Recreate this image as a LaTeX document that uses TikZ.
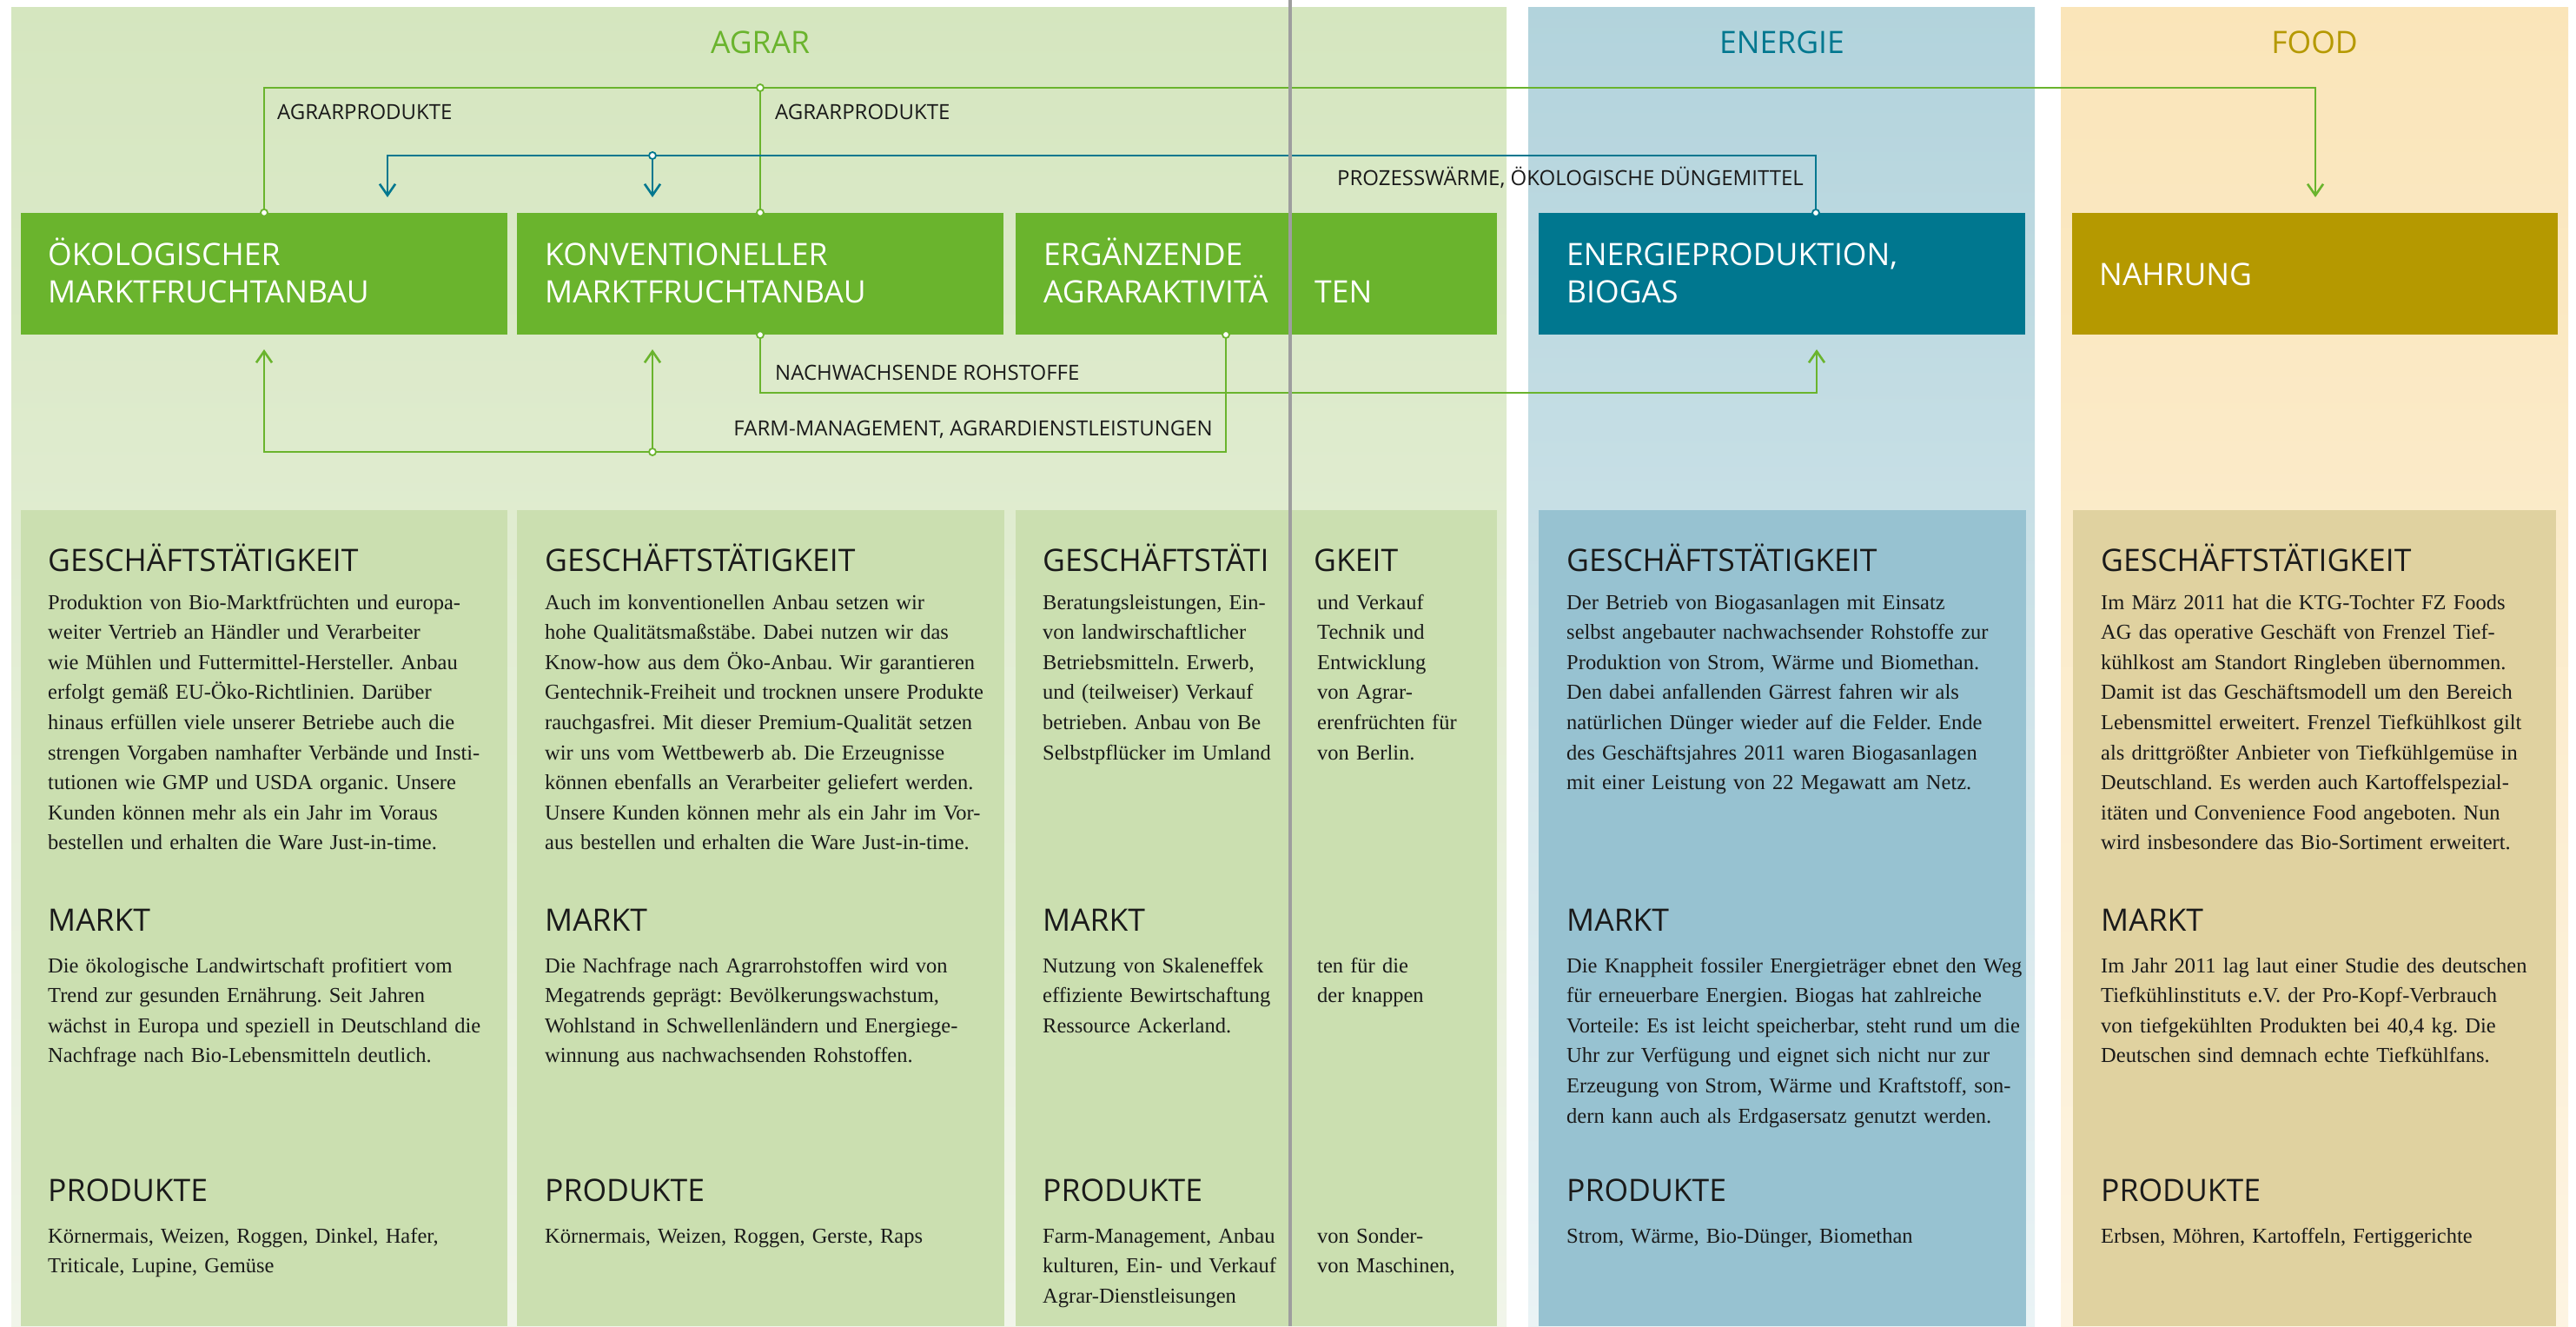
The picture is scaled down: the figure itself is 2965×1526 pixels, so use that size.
\documentclass[tikz,border=0pt]{standalone}
\usepackage{fontspec}
\setmainfont{Liberation Serif}
\setsansfont{Open Sans}
\usetikzlibrary{arrows.meta}
\frenchspacing

\definecolor{agrarGreen}{RGB}{106,180,45}
\definecolor{energyTeal}{RGB}{0,119,143}
\definecolor{foodGold}{RGB}{181,153,0}
\definecolor{agrarTop}{RGB}{213,230,191}
\definecolor{agrarBottom}{RGB}{241,245,234}
\definecolor{energyTop}{RGB}{178,211,220}
\definecolor{energyBottom}{RGB}{234,243,245}
\definecolor{foodTop}{RGB}{250,229,185}
\definecolor{foodBottom}{RGB}{253,244,226}
\definecolor{agrarCard}{RGB}{203,223,176}
\definecolor{energyCard}{RGB}{151,194,209}
\definecolor{foodCard}{RGB}{224,210,160}
\definecolor{ink}{RGB}{26,26,26}
\definecolor{divider}{RGB}{158,158,158}

\tikzset{
  unit/.style={draw=none, rectangle, inner sep=0pt, minimum height=140pt},
  card/.style={draw=none, rectangle, inner sep=0pt, minimum height=939pt},
  unitlabel/.style={anchor=base west, inner sep=0pt, text=white, text width=540pt, align=left,
    font=\sffamily\fontsize{35.5}{43}\selectfont},
  paneltitle/.style={anchor=base, inner sep=0pt, font=\sffamily\fontsize{35.5}{40}\selectfont},
  heading/.style={anchor=base west, inner sep=0pt, text=ink, font=\sffamily\fontsize{35.5}{40}\selectfont},
  body/.style={anchor=base west, inner sep=0pt, text=ink, text width=620pt, align=left,
    font=\rmfamily\fontsize{24.5}{34.6}\selectfont},
  flowlabel/.style={inner sep=0pt, text=ink, font=\sffamily\fontsize{24}{28}\selectfont},
  greenflow/.style={draw=agrarGreen, line width=2.6pt},
  tealflow/.style={draw=energyTeal, line width=2.6pt},
  tip/.style={-{Straight Barb[length=13pt,width=18pt]}},
  joint/.style={circle, fill=white, line width=1.8pt, inner sep=0pt, minimum size=8pt},
}

\begin{document}
\begin{tikzpicture}[x=1pt,y=-1pt]
\useasboundingbox (0,0) rectangle (2965,1526);

% segment backgrounds
\fill[top color=agrarTop, bottom color=agrarBottom] (13,8) rectangle (1734,1526);
\fill[top color=energyTop, bottom color=energyBottom] (1759,8) rectangle (2342,1526);
\fill[top color=foodTop, bottom color=foodBottom] (2372,8) rectangle (2956,1526);

% segment titles
\node[paneltitle, text=agrarGreen] (tAgrar) at (875,61) {AGRAR};
\node[paneltitle, text=energyTeal] (tEnergie) at (2051,61) {ENERGIE};
\node[paneltitle, text=foodGold] (tFood) at (2664,61) {FOOD};

% description cards
\node[card, fill=agrarCard, minimum width=560pt] (cOeko) at (304,1056.5) {};
\node[card, fill=agrarCard, minimum width=561pt] (cKonv) at (875.5,1056.5) {};
\node[card, fill=agrarCard, minimum width=554pt] (cErg) at (1446,1056.5) {};
\node[card, fill=energyCard, minimum width=561pt] (cEnergie) at (2051.5,1056.5) {};
\node[card, fill=foodCard, minimum width=556pt] (cFood) at (2664,1056.5) {};

% business units
\node[unit, fill=agrarGreen, minimum width=560pt] (oeko) at (304,315) {};
\node[unit, fill=agrarGreen, minimum width=560pt] (konv) at (875,315) {};
\node[unit, fill=agrarGreen, minimum width=554pt] (erg) at (1446,315) {};
\node[unit, fill=energyTeal, minimum width=560pt] (energie) at (2051,315) {};
\node[unit, fill=foodGold, minimum width=559pt] (nahrung) at (2664.5,315) {};

\node[unitlabel] (lOeko) at (55,305) {ÖKOLOGISCHER\\MARKTFRUCHTANBAU};
\node[unitlabel] (lKonv) at (627,305) {KONVENTIONELLER\\MARKTFRUCHTANBAU};
\node[unitlabel] (lErg) at (1201,305) {ERGÄNZENDE\\AGRARAKTIVITÄ};
\node[unitlabel] (lErgB) at (1513,348) {TEN};
\node[unitlabel] (lEnergie) at (1803,305) {ENERGIEPRODUKTION,\\BIOGAS};
\node[unitlabel] (lNahrung) at (2416,328) {NAHRUNG};

% connection points
\coordinate (agrRailL) at (304,101);
\coordinate (agrJoin) at (875,101);
\coordinate (agrRailR) at (2665,101);
\coordinate (foodIn) at (2665,227);

\coordinate (energyOut) at (2090,245);
\coordinate (heatR) at (2090,179);
\coordinate (heatJoin) at (751,179);
\coordinate (heatL) at (446,179);
\coordinate (oekoHeatIn) at (446,227);
\coordinate (konvHeatIn) at (751,227);

\coordinate (rawDown) at (875,452);
\coordinate (rawRight) at (2091,452);
\coordinate (energyIn) at (2091,402);

\coordinate (ergOut) at (1411,385);
\coordinate (farmR) at (1411,520);
\coordinate (farmJoin) at (751,520);
\coordinate (farmL) at (304,520);
\coordinate (oekoFarmIn) at (304,402);
\coordinate (konvFarmIn) at (751,402);

% flows
\draw[greenflow, tip] (oeko.north) -- (agrRailL) -- (agrRailR) -- (foodIn);
\draw[greenflow] (konv.north) -- (agrJoin);
\draw[tealflow, tip] (energyOut) -- (heatR) -- (heatL) -- (oekoHeatIn);
\draw[tealflow, tip] (heatJoin) -- (konvHeatIn);
\draw[greenflow, tip] (konv.south) -- (rawDown) -- (rawRight) -- (energyIn);
\draw[greenflow, tip] (ergOut) -- (farmR) -- (farmL) -- (oekoFarmIn);
\draw[greenflow, tip] (farmJoin) -- (konvFarmIn);

% junction markers
\node[joint, draw=agrarGreen] (jOekoTop) at (oeko.north) {};
\node[joint, draw=agrarGreen] (jKonvTop) at (konv.north) {};
\node[joint, draw=agrarGreen] (jAgr) at (agrJoin) {};
\node[joint, draw=energyTeal] (jHeat) at (heatJoin) {};
\node[joint, draw=energyTeal] (jEnergyOut) at (energyOut) {};
\node[joint, draw=agrarGreen] (jKonvBottom) at (konv.south) {};
\node[joint, draw=agrarGreen] (jErgBottom) at (ergOut) {};
\node[joint, draw=agrarGreen] (jFarm) at (farmJoin) {};

% flow labels
\node[flowlabel, anchor=base west] (fAgr1) at (319,137) {AGRARPRODUKTE};
\node[flowlabel, anchor=base west] (fAgr2) at (892,137) {AGRARPRODUKTE};
\node[flowlabel, anchor=base east] (fHeat) at (2076,213) {PROZESSWÄRME, ÖKOLOGISCHE DÜNGEMITTEL};
\node[flowlabel, anchor=base west] (fRaw) at (892,437) {NACHWACHSENDE ROHSTOFFE};
\node[flowlabel, anchor=base east] (fFarm) at (1396,501) {FARM-MANAGEMENT, AGRARDIENSTLEISTUNGEN};

% --- Ökologischer Marktfruchtanbau
\node[heading] (hOeko1) at (55,657) {GESCHÄFTSTÄTIGKEIT};
\node[body] (bOeko1) at (55,701) {Produktion von Bio-Marktfrüchten und europa-\\
weiter Vertrieb an Händler und Verarbeiter\\
wie Mühlen und Futtermittel-Hersteller. Anbau\\
erfolgt gemäß EU-Öko-Richtlinien. Darüber\\
hinaus erfüllen viele unserer Betriebe auch die\\
strengen Vorgaben namhafter Verbände und Insti-\\
tutionen wie GMP und USDA organic. Unsere\\
Kunden können mehr als ein Jahr im Voraus\\
bestellen und erhalten die Ware Just-in-time.};
\node[heading] (hOeko2) at (55,1071) {MARKT};
\node[body] (bOeko2) at (55,1119) {Die ökologische Landwirtschaft profitiert vom\\
Trend zur gesunden Ernährung. Seit Jahren\\
wächst in Europa und speziell in Deutschland die\\
Nachfrage nach Bio-Lebensmitteln deutlich.};
\node[heading] (hOeko3) at (55,1382) {PRODUKTE};
\node[body] (bOeko3) at (55,1430) {Körnermais, Weizen, Roggen, Dinkel, Hafer,\\
Triticale, Lupine, Gemüse};

% --- Konventioneller Marktfruchtanbau
\node[heading] (hKonv1) at (627,657) {GESCHÄFTSTÄTIGKEIT};
\node[body] (bKonv1) at (627,701) {Auch im konventionellen Anbau setzen wir\\
hohe Qualitätsmaßstäbe. Dabei nutzen wir das\\
Know-how aus dem Öko-Anbau. Wir garantieren\\
Gentechnik-Freiheit und trocknen unsere Produkte\\
rauchgasfrei. Mit dieser Premium-Qualität setzen\\
wir uns vom Wettbewerb ab. Die Erzeugnisse\\
können ebenfalls an Verarbeiter geliefert werden.\\
Unsere Kunden können mehr als ein Jahr im Vor-\\
aus bestellen und erhalten die Ware Just-in-time.};
\node[heading] (hKonv2) at (627,1071) {MARKT};
\node[body] (bKonv2) at (627,1119) {Die Nachfrage nach Agrarrohstoffen wird von\\
Megatrends geprägt: Bevölkerungswachstum,\\
Wohlstand in Schwellenländern und Energiege-\\
winnung aus nachwachsenden Rohstoffen.};
\node[heading] (hKonv3) at (627,1382) {PRODUKTE};
\node[body] (bKonv3) at (627,1430) {Körnermais, Weizen, Roggen, Gerste, Raps};

% --- Ergänzende Agraraktivitäten
\node[heading] (hErg1) at (1200,657) {GESCHÄFTSTÄTI};
\node[heading] (hErg1b) at (1512,657) {GKEIT};
\node[body, text width=300pt] (bErg1) at (1200,701) {Beratungsleistungen, Ein-\\
von landwirschaftlicher\\
Betriebsmitteln. Erwerb,\\
und (teilweiser) Verkauf\\
betrieben. Anbau von Be\\
Selbstpflücker im Umland};
\node[body, text width=200pt] (bErg1b) at (1516,701) {und Verkauf\\
Technik und\\
Entwicklung\\
von Agrar-\\
erenfrüchten für\\
von Berlin.};
\node[heading] (hErg2) at (1200,1071) {MARKT};
\node[body, text width=300pt] (bErg2) at (1200,1119) {Nutzung von Skaleneffek\\
effiziente Bewirtschaftung\\
Ressource Ackerland.};
\node[body, text width=200pt] (bErg2b) at (1516,1119) {ten für die\\
der knappen};
\node[heading] (hErg3) at (1200,1382) {PRODUKTE};
\node[body, text width=300pt] (bErg3) at (1200,1430) {Farm-Management, Anbau\\
kulturen, Ein- und Verkauf\\
Agrar-Dienstleisungen};
\node[body, text width=200pt] (bErg3b) at (1516,1430) {von Sonder-\\
von Maschinen,};

% --- Energieproduktion
\node[heading] (hEn1) at (1803,657) {GESCHÄFTSTÄTIGKEIT};
\node[body] (bEn1) at (1803,701) {Der Betrieb von Biogasanlagen mit Einsatz\\
selbst angebauter nachwachsender Rohstoffe zur\\
Produktion von Strom, Wärme und Biomethan.\\
Den dabei anfallenden Gärrest fahren wir als\\
natürlichen Dünger wieder auf die Felder. Ende\\
des Geschäftsjahres 2011 waren Biogasanlagen\\
mit einer Leistung von 22 Megawatt am Netz.};
\node[heading] (hEn2) at (1803,1071) {MARKT};
\node[body] (bEn2) at (1803,1119) {Die Knappheit fossiler Energieträger ebnet den Weg\\
für erneuerbare Energien. Biogas hat zahlreiche\\
Vorteile: Es ist leicht speicherbar, steht rund um die\\
Uhr zur Verfügung und eignet sich nicht nur zur\\
Erzeugung von Strom, Wärme und Kraftstoff, son-\\
dern kann auch als Erdgasersatz genutzt werden.};
\node[heading] (hEn3) at (1803,1382) {PRODUKTE};
\node[body] (bEn3) at (1803,1430) {Strom, Wärme, Bio-Dünger, Biomethan};

% --- Nahrung
\node[heading] (hFood1) at (2418,657) {GESCHÄFTSTÄTIGKEIT};
\node[body] (bFood1) at (2418,701) {Im März 2011 hat die KTG-Tochter FZ Foods\\
AG das operative Geschäft von Frenzel Tief-\\
kühlkost am Standort Ringleben übernommen.\\
Damit ist das Geschäftsmodell um den Bereich\\
Lebensmittel erweitert. Frenzel Tiefkühlkost gilt\\
als drittgrößter Anbieter von Tiefkühlgemüse in\\
Deutschland. Es werden auch Kartoffelspezial-\\
itäten und Convenience Food angeboten. Nun\\
wird insbesondere das Bio-Sortiment erweitert.};
\node[heading] (hFood2) at (2418,1071) {MARKT};
\node[body] (bFood2) at (2418,1119) {Im Jahr 2011 lag laut einer Studie des deutschen\\
Tiefkühlinstituts e.V. der Pro-Kopf-Verbrauch\\
von tiefgekühlten Produkten bei 40,4 kg. Die\\
Deutschen sind demnach echte Tiefkühlfans.};
\node[heading] (hFood3) at (2418,1382) {PRODUKTE};
\node[body] (bFood3) at (2418,1430) {Erbsen, Möhren, Kartoffeln, Fertiggerichte};

% vertical divider over everything
\draw[divider, line width=3.2pt] (1485,0) -- (1485,1526);
\end{tikzpicture}
\end{document}
